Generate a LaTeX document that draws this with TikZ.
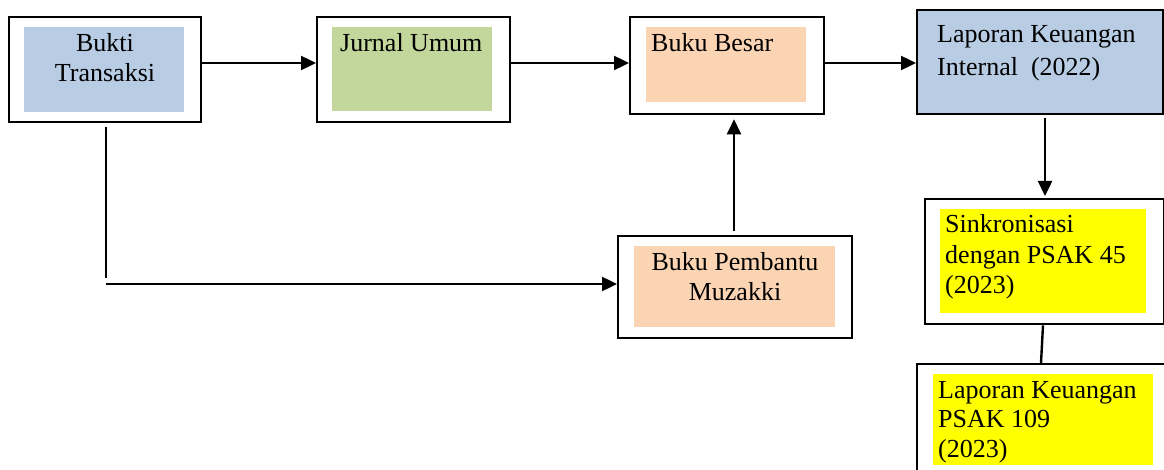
\documentclass[tikz,border=0pt]{standalone}
\usepackage{fontspec}
\setmainfont{Liberation Serif}
\usetikzlibrary{arrows.meta}
\definecolor{cblue}{HTML}{B8CCE4}
\definecolor{cgreen}{HTML}{C3D69B}
\definecolor{corange}{HTML}{FBD4B4}
\definecolor{cyellow}{HTML}{FFFF00}
\begin{document}
\begin{tikzpicture}[x=1pt,y=-1pt,
  outerbox/.style={draw=black, line width=2.3pt, fill=white, inner sep=0pt, anchor=north west},
  fillbox/.style={inner sep=0pt, anchor=north west, draw=none},
  lbl/.style={inner sep=0pt, font=\fontsize{26}{30}\selectfont},
  conn/.style={line width=2.4pt},
  arr/.style={conn, -{Triangle[length=15pt,width=14pt]}}]
\useasboundingbox (0,0) rectangle (1164,470);

% Bukti Transaksi
\node[outerbox, minimum width=192pt, minimum height=105pt] (bukti) at (8,16) {};
\node[fillbox, fill=cblue, minimum width=160pt, minimum height=85pt] (buktif) at (24,27) {};
\node[lbl, align=center, anchor=base] (buktit) at (105,82) {Bukti\\Transaksi};

% Jurnal Umum
\node[outerbox, minimum width=193pt, minimum height=105pt] (jurnal) at (316,16) {};
\node[fillbox, fill=cgreen, minimum width=160pt, minimum height=84pt] (jurnalf) at (332,27) {};
\node[lbl, anchor=base west] (jurnalt) at (340,52) {Jurnal Umum};

% Buku Besar
\node[outerbox, minimum width=194pt, minimum height=97pt] (besar) at (629,16) {};
\node[fillbox, fill=corange, minimum width=160pt, minimum height=75pt] (besarf) at (646,27) {};
\node[lbl, anchor=base west] (besart) at (651,52) {Buku Besar};

% Laporan Keuangan Internal
\node[outerbox, fill=cblue, minimum width=246pt, minimum height=104pt] (internal) at (916,9) {};
\node[lbl, font=\fontsize{26}{33}\selectfont, align=left, anchor=base west] (internalt) at (937,76) {Laporan Keuangan\\Internal\ \ (2022)};

% Buku Pembantu Muzakki
\node[outerbox, minimum width=234pt, minimum height=102pt] (pembantu) at (617,235) {};
\node[fillbox, fill=corange, minimum width=201pt, minimum height=81pt] (pembantuf) at (634,246) {};
\node[lbl, align=center, anchor=base] (pembantut) at (735,300) {Buku Pembantu\\Muzakki};

% Sinkronisasi
\node[outerbox, minimum width=239pt, minimum height=125pt] (sinkron) at (924,198) {};
\node[fillbox, fill=cyellow, minimum width=206pt, minimum height=104pt] (sinkronf) at (940,209) {};
\node[lbl, font=\fontsize{26}{30.5}\selectfont, align=left, anchor=base west] (sinkront) at (945,294) {Sinkronisasi\\dengan PSAK 45\\(2023)};

% Laporan Keuangan PSAK 109
\node[outerbox, minimum width=262pt, minimum height=120pt] (psak) at (916,363) {};
\node[fillbox, fill=cyellow, minimum width=220pt, minimum height=91pt] (psakf) at (933,374) {};
\node[lbl, font=\fontsize{26}{29.5}\selectfont, align=left, anchor=base west] (psakt) at (938,457) {Laporan Keuangan\\PSAK 109\\(2023)};

% connectors
\coordinate (rowy) at (0,63);
\draw[arr] (bukti.east |- rowy) -- (jurnal.west |- rowy);
\draw[arr] (jurnal.east |- rowy) -- (besar.west |- rowy);
\draw[arr] (besar.east |- rowy) -- (internal.west |- rowy);

\coordinate (vx1) at (1045,0);
\draw[arr, shorten <=3pt, shorten >=2pt] (vx1 |- internal.south) -- (vx1 |- sinkron.north);
\coordinate (vx2) at (1043,0);
\coordinate (vx3) at (1041,0);
\draw[conn] (vx2 |- sinkron.south) -- (vx3 |- psak.north);

\coordinate (vx4) at (734,0);
\draw[arr, shorten <=4pt, shorten >=4pt] (vx4 |- pembantu.north) -- (vx4 |- besar.south);

\coordinate (c1) at (106,278);
\coordinate (c2) at (106,284);
\draw[conn, shorten <=4pt] (c1 |- bukti.south) -- (c1);
\draw[arr] (c2) -- (pembantu.west |- c2);
\end{tikzpicture}
\end{document}
